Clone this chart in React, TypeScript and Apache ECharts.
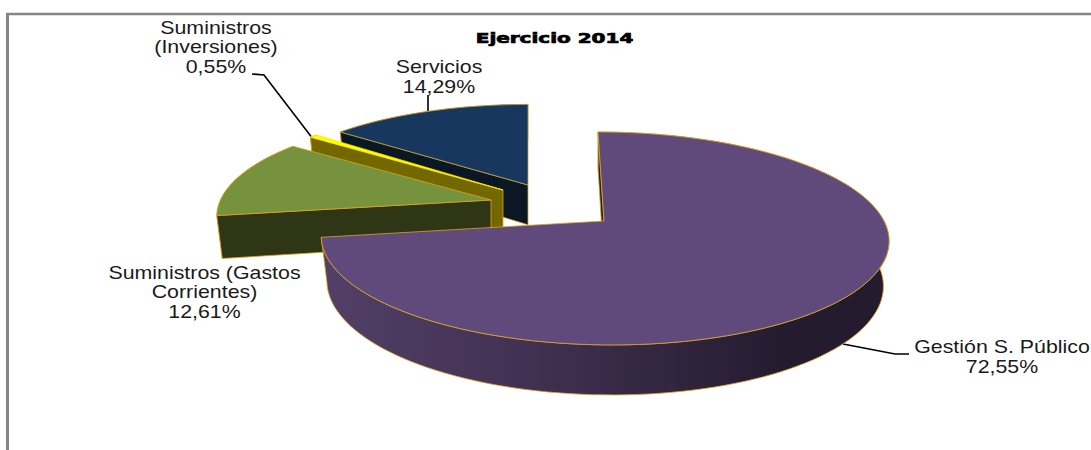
import React, { useEffect, useRef } from "react";
import * as echarts from "echarts";

const categories = ["Gestión S. Público", "Suministros (Gastos Corrientes)", "Suministros (Inversiones)", "Servicios"];
const values = [72.55, 12.61, 0.55, 14.29];
const titleText = "Ejercicio 2014";

const topColors = ["#604a7b", "#76923c", "#ffff00", "#17375e"];
const wallColors = ["#3a2c49", "#2f3616", "#736800", "#0a1826"];
const topEdges = ["#dca523", "#dca523", "#ffe600", "#c9a23a"];
const edgeColor = "#dca523";

// per-slice placement of the exploded wedges: apex x, apex y, scales, shear
const apexX = [604, 491, 503, 528];
const apexY = [221, 200, 190, 185];
const sliceScaleX = [1, 0.966, 0.94, 0.945];
const sliceScaleY = [1, 0.955, 0.94, 0.905];
const sliceShear = [0.067, 0, 0, 0];
const drawOrder = [3, 2, 1, 0];

const RX = 280;
const RY = 103.6;
const K = 0.164;
const WALL = 44;

function project(i: number, deg: number, r: number) {
  const t = (deg * Math.PI) / 180;
  const u = Math.sin(t) * r;
  const v = -Math.cos(t) * r;
  const den = 1 - K * v;
  const y = (RY * v) / den;
  const x = (RX * u) / den + sliceShear[i] * y;
  const xr = x * sliceScaleX[i];
  const yr = y * sliceScaleY[i];
  return { x: apexX[i] + xr, y: apexY[i] + yr, v, xr, yr };
}
function bottom(i: number, deg: number, r: number) {
  const p = project(i, deg, r);
  const d = WALL * (1 + 0.136 * p.v) * sliceScaleY[i];
  return [apexX[i] + p.xr * 0.98, p.y + d];
}

function renderSlice(i: number, api: any) {
  const total = values.reduce((a, b) => a + b, 0);
  let before = 0;
  for (let k = 0; k < i; k++) before += values[k];
  const a0 = (before / total) * 360;
  const a1 = ((before + (api.value(0) as number)) / total) * 360;
  const steps: number[] = [];
  const n = Math.max(2, Math.ceil((a1 - a0) / 2));
  for (let k = 0; k <= n; k++) steps.push(a0 + ((a1 - a0) * k) / n);
  const apex = project(i, 0, 0);
  const apexB = bottom(i, 0, 0);
  const topArc = steps.map((d) => {
    const p = project(i, d, 1);
    return [p.x, p.y];
  });
  const botArc = steps.map((d) => bottom(i, d, 1));
  const wallFill =
    i === 0
      ? new echarts.graphic.LinearGradient(0, 0, 1, 0, [
          { offset: 0, color: "#524068" },
          { offset: 0.45, color: "#3c2d4c" },
          { offset: 0.82, color: "#241b2f" },
          { offset: 1, color: "#241b2f" },
        ])
      : wallColors[i];
  const faceFill = i === 0 ? "#2a2036" : wallColors[i];
  return {
    type: "group",
    children: [
      {
        type: "polygon",
        shape: { points: [...topArc, ...botArc.slice().reverse()] },
        style: { fill: wallFill, stroke: edgeColor, lineWidth: 0.8 },
      },
      {
        type: "polygon",
        shape: { points: [[apex.x, apex.y], topArc[0], botArc[0], apexB] },
        style: { fill: faceFill, stroke: edgeColor, lineWidth: 0.8 },
      },
      {
        type: "polygon",
        shape: { points: [[apex.x, apex.y], ...topArc] },
        style: { fill: topColors[i], stroke: topEdges[i], lineWidth: 0.8 },
      },
    ],
  };
}

const pct = (v: number) => v.toFixed(2).replace(".", ",") + "%";

const labelFont = "'Liberation Sans', Arial, sans-serif";
function label(lines: string[], cx: number, cy: number) {
  return lines.map((text, k) => ({
    type: "text",
    x: cx,
    y: cy + k * 19.5,
    scaleX: 1.22,
    style: { text, font: `17.5px ${labelFont}`, fill: "#1a1a1a", align: "center", verticalAlign: "middle" },
  }));
}

export default function App() {
  const ref = useRef<HTMLDivElement>(null);
  useEffect(() => {
    const chart = echarts.init(ref.current!, undefined, { renderer: "svg" });
    chart.setOption({
      animation: false,
      backgroundColor: "#ffffff",
      graphic: [
        { type: "line", shape: { x1: 6, y1: 14, x2: 1091, y2: 14 }, style: { stroke: "#868686", lineWidth: 2.5 } },
        { type: "line", shape: { x1: 7.5, y1: 13, x2: 7.5, y2: 450 }, style: { stroke: "#868686", lineWidth: 3 } },
        {
          type: "text",
          x: 554.5,
          y: 38,
          scaleX: 1.48,
          style: {
            text: titleText,
            font: "bold 13.5px 'DejaVu Sans', sans-serif",
            fill: "#000",
            stroke: "#000",
            lineWidth: 0.7,
            align: "center",
            verticalAlign: "middle",
          },
        },
        ...label(["Suministros", "(Inversiones)", pct(values[2])], 216, 27.5),
        ...label(["Servicios", pct(values[3])], 439, 67),
        ...label(["Suministros (Gastos", "Corrientes)", pct(values[1])], 204.5, 272.5),
        ...label([categories[0], pct(values[0])], 1002, 347),
        { type: "polyline", shape: { points: [[252, 74], [264, 75], [313, 139]] }, style: { stroke: "#000", lineWidth: 1.6, fill: "none" } },
        { type: "line", shape: { x1: 428, y1: 95, x2: 428, y2: 112 }, style: { stroke: "#000", lineWidth: 1.6 } },
        { type: "polyline", shape: { points: [[843, 344], [895, 354], [909, 354]] }, style: { stroke: "#000", lineWidth: 1.6, fill: "none" } },
      ],
      series: [
        {
          type: "custom",
          coordinateSystem: "none",
          silent: true,
          data: drawOrder.map((i) => ({ name: categories[i], value: [values[i]] })),
          renderItem: (params: any, api: any) => renderSlice(drawOrder[params.dataIndex], api),
        },
      ],
    });
    return () => chart.dispose();
  }, []);
  return <div ref={ref} style={{ position: "absolute", left: 0, top: 0, width: 1091, height: 450 }} />;
}
